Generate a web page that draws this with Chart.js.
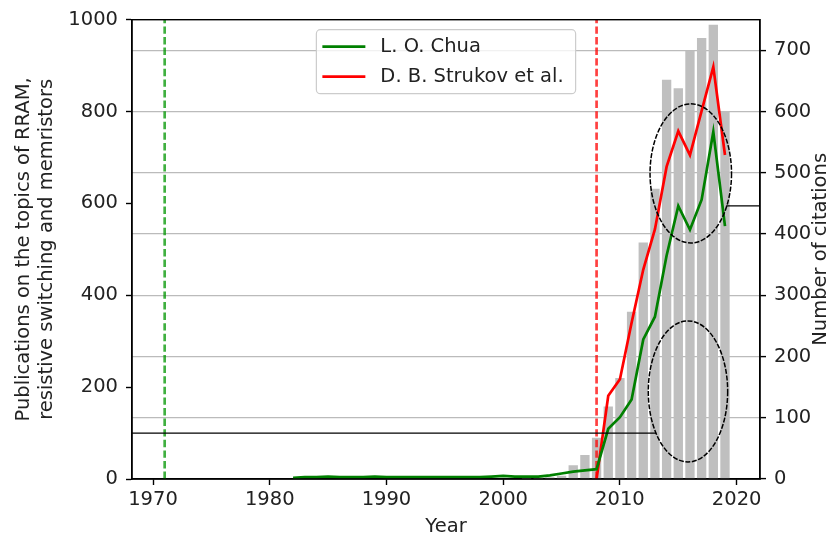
<!DOCTYPE html>
<html>
<head>
<meta charset="utf-8">
<script src="https://cdn.jsdelivr.net/npm/chart.js@4/dist/chart.umd.min.js"></script>
<style>
  html, body { margin: 0; padding: 0; background: #fff; }
  canvas { display: block; }
</style>
</head>
<body>
<canvas id="chart" width="832" height="539"></canvas>
<script>
// publications per year (bars, left axis)
var pubYears  = [2000, 2001, 2002, 2003, 2004, 2005, 2006, 2007, 2008, 2009,
                 2010, 2011, 2012, 2013, 2014, 2015, 2016, 2017, 2018, 2019];
var pubCounts = [1, 1, 2, 3, 4, 7, 30, 52, 90, 158,
                 220, 364, 515, 632, 869, 851, 932, 960, 989, 800];

// citations per year (lines, right axis)
var chuaYears = [1982, 1983, 1984, 1985, 1986, 1987, 1988, 1989, 1990, 1991,
                 1992, 1993, 1994, 1995, 1996, 1997, 1998, 1999, 2000, 2001,
                 2002, 2003, 2004, 2005, 2006, 2007, 2008, 2009, 2010, 2011,
                 2012, 2013, 2014, 2015, 2016, 2017, 2018, 2019];
var chuaCites = [2, 3, 3, 4, 3, 3, 3, 4, 3, 3,
                 3, 3, 3, 3, 3, 3, 3, 4, 5, 4,
                 4, 4, 6, 9, 12, 14, 16, 82, 101, 130,
                 228, 265, 365, 446, 407, 456, 567, 413];
var strukovYears = [2008, 2009, 2010, 2011, 2012, 2013, 2014, 2015, 2016, 2017, 2018, 2019];
var strukovCites = [0, 136, 163, 255, 342, 408, 510, 568, 529, 601, 673, 529];

// year of the two original papers (dashed markers)
var chuaPaperYear = 1971;
var strukovPaperYear = 2008;

// axes
var xMin = 1968.2, xMax = 2022;
var xTicks = [1970, 1980, 1990, 2000, 2010, 2020];
var leftTicks = [0, 200, 400, 600, 800, 1000];
var rightTicks = [0, 100, 200, 300, 400, 500, 600, 700];

// highlighted regions (x in years, y in citations)
var ellipses = [
  { x: 2016.07, y: 499, rx: 3.49, ry: 113.6 },
  { x: 2015.83, y: 143, rx: 3.40, ry: 115.2 }
];
// guide lines from the ellipses to the axes
var guides = [
  { axis: 'y',  y: 100, x0: xMin,   x1: 2013.1 },
  { axis: 'y1', y: 446, x0: 2019.1, x1: xMax }
];

var chuaColor = '#008000';
var strukovColor = '#ff0000';
var fontSize = 19.5;

Chart.defaults.font.family = "'DejaVu Sans', sans-serif";
Chart.defaults.font.size = fontSize;
Chart.defaults.color = '#222';

function pts(xs, ys) {
  return xs.map(function (x, i) { return { x: x, y: ys[i] }; });
}
function fixTicks(list) {
  return function (scale) {
    scale.ticks = list.map(function (v) { return { value: v }; });
  };
}

var extras = {
  id: 'extras',
  afterDatasetsDraw: function (chart) {
    var ctx = chart.ctx, a = chart.chartArea;
    var sx = chart.scales.x;
    ctx.save();
    ctx.beginPath();
    ctx.rect(a.left, a.top, a.right - a.left, a.bottom - a.top);
    ctx.clip();

    // guide lines
    ctx.strokeStyle = '#000';
    ctx.lineWidth = 1.3;
    guides.forEach(function (g) {
      var py = chart.scales[g.axis].getPixelForValue(g.y);
      ctx.beginPath();
      ctx.moveTo(sx.getPixelForValue(g.x0), py);
      ctx.lineTo(sx.getPixelForValue(g.x1), py);
      ctx.stroke();
    });

    // ellipses
    var sy1 = chart.scales.y1;
    ctx.lineWidth = 1.5;
    ctx.setLineDash([5, 1.6]);
    ellipses.forEach(function (e) {
      var cx = sx.getPixelForValue(e.x), cy = sy1.getPixelForValue(e.y);
      var rx = sx.getPixelForValue(e.x + e.rx) - cx;
      var ry = cy - sy1.getPixelForValue(e.y + e.ry);
      ctx.beginPath();
      ctx.ellipse(cx, cy, rx, ry, 0, 0, Math.PI * 2);
      ctx.stroke();
    });
    ctx.setLineDash([]);
    ctx.restore();

    // frame
    ctx.save();
    ctx.strokeStyle = '#000';
    ctx.lineWidth = 1.4;
    ctx.strokeRect(a.left, a.top, a.right - a.left, a.bottom - a.top);

    // legend
    var items = [
      { label: 'L. O. Chua', color: chuaColor },
      { label: 'D. B. Strukov et al.', color: strukovColor }
    ];
    ctx.font = fontSize + "px 'DejaVu Sans', sans-serif";
    var tw = 0;
    items.forEach(function (it) { tw = Math.max(tw, ctx.measureText(it.label).width); });
    var w = 64 + tw + 12, h = 64;
    var bx = (a.left + a.right) / 2 - w / 2, by = a.top + 10;
    ctx.beginPath();
    ctx.roundRect(bx, by, w, h, 4);
    ctx.fillStyle = 'rgba(255,255,255,0.8)';
    ctx.fill();
    ctx.strokeStyle = '#cccccc';
    ctx.lineWidth = 1.2;
    ctx.stroke();
    items.forEach(function (it, i) {
      var y = by + 17 + i * 30;
      ctx.strokeStyle = it.color;
      ctx.lineWidth = 2.7;
      ctx.beginPath();
      ctx.moveTo(bx + 6, y);
      ctx.lineTo(bx + 49, y);
      ctx.stroke();
      ctx.fillStyle = '#222';
      ctx.textAlign = 'left';
      ctx.textBaseline = 'middle';
      ctx.fillText(it.label, bx + 64, y);
    });

    // right axis title, reading bottom to top
    ctx.translate(821, (a.top + a.bottom) / 2);
    ctx.rotate(-Math.PI / 2);
    ctx.textAlign = 'center';
    ctx.fillText('Number of citations', 0, 0);
    ctx.restore();
  }
};

var ctx = document.getElementById('chart').getContext('2d');
var chart = new Chart(ctx, {
  type: 'bar',
  data: {
    datasets: [
      {
        type: 'line', label: 'L. O. Chua',
        data: pts(chuaYears, chuaCites),
        borderColor: chuaColor, borderWidth: 2.7,
        pointRadius: 0, tension: 0, yAxisID: 'y1', order: 0
      },
      {
        type: 'line', label: 'D. B. Strukov et al.',
        data: pts(strukovYears, strukovCites),
        borderColor: strukovColor, borderWidth: 2.7,
        pointRadius: 0, tension: 0, yAxisID: 'y1', order: 0
      },
      {
        type: 'line', label: 'Chua 1971',
        data: pts([chuaPaperYear, chuaPaperYear], [0, 1000]),
        borderColor: 'rgba(0,150,0,0.75)', borderWidth: 2.7, borderDash: [7.4, 3.2],
        pointRadius: 0, yAxisID: 'y', order: 1
      },
      {
        type: 'line', label: 'Strukov 2008',
        data: pts([strukovPaperYear, strukovPaperYear], [0, 1000]),
        borderColor: 'rgba(255,0,0,0.75)', borderWidth: 2.7, borderDash: [7.4, 3.2],
        pointRadius: 0, yAxisID: 'y', order: 1
      },
      {
        type: 'bar', label: 'Publications',
        data: pts(pubYears, pubCounts),
        backgroundColor: '#bfbfbf',
        barPercentage: 0.8, categoryPercentage: 1.0,
        yAxisID: 'y', order: 5
      }
    ]
  },
  options: {
    responsive: false,
    animation: false,
    layout: { padding: { top: 15, left: 0, right: 0, bottom: 0 } },
    plugins: { legend: { display: false }, tooltip: { enabled: false } },
    scales: {
      x: {
        type: 'linear', min: xMin, max: xMax, offset: false,
        afterBuildTicks: fixTicks(xTicks),
        afterFit: function (s) { s.height = 60; },
        ticks: { callback: function (v) { return String(v); }, padding: 3, maxRotation: 0, autoSkip: false },
        grid: { drawOnChartArea: false, offset: false, tickLength: 6, tickColor: '#000', tickWidth: 1.4 },
        border: { color: '#000', width: 1.4 },
        title: { display: true, text: 'Year', padding: 0 }
      },
      y: {
        position: 'left', min: 0, max: 1000,
        afterBuildTicks: fixTicks(leftTicks),
        afterFit: function (s) { s.width = 132; },
        ticks: { callback: function (v) { return String(v); }, padding: 8 },
        grid: { drawOnChartArea: false, tickLength: 6, tickColor: '#000', tickWidth: 1.4 },
        border: { color: '#000', width: 1.4 },
        title: {
          display: true,
          text: ['Publications on the topics of RRAM,', 'resistive switching and memristors'],
          padding: { top: 12, bottom: 0 }
        }
      },
      y1: {
        position: 'right', min: 0, max: 750,
        afterBuildTicks: fixTicks(rightTicks),
        afterFit: function (s) { s.width = 72; },
        ticks: { callback: function (v) { return String(v); }, padding: 8 },
        grid: { color: '#bbbbbb', lineWidth: 1.2, tickLength: 6, tickColor: '#000', tickWidth: 1.4 },
        border: { color: '#000', width: 1.4 },
        title: { display: false }
      }
    }
  },
  plugins: [extras]
});
</script>
</body>
</html>
